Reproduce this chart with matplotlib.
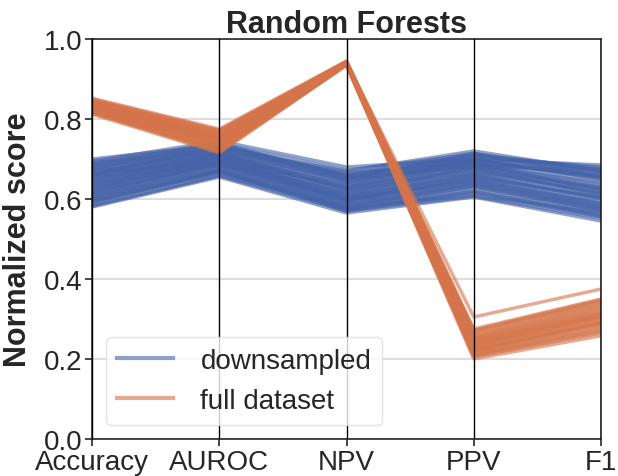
import matplotlib
matplotlib.use("Agg")
import matplotlib.pyplot as plt
import numpy as np

# metrics on the parallel axes
metrics = ["Accuracy", "AUROC", "NPV", "PPV", "F1"]

# downsampled runs: Accuracy, AUROC, NPV, PPV, F1
downsampled = [
    [0.700, 0.735, 0.660, 0.715, 0.655],
    [0.695, 0.745, 0.680, 0.700, 0.685],
    [0.692, 0.738, 0.672, 0.712, 0.676],
    [0.690, 0.725, 0.670, 0.720, 0.670],
    [0.687, 0.732, 0.662, 0.708, 0.668],
    [0.685, 0.740, 0.655, 0.705, 0.680],
    [0.682, 0.728, 0.658, 0.698, 0.662],
    [0.680, 0.720, 0.665, 0.690, 0.660],
    [0.677, 0.735, 0.652, 0.712, 0.672],
    [0.675, 0.730, 0.650, 0.710, 0.665],
    [0.672, 0.722, 0.646, 0.702, 0.655],
    [0.670, 0.715, 0.640, 0.700, 0.650],
    [0.667, 0.718, 0.648, 0.692, 0.645],
    [0.665, 0.725, 0.645, 0.685, 0.640],
    [0.662, 0.712, 0.638, 0.697, 0.652],
    [0.660, 0.705, 0.635, 0.695, 0.655],
    [0.660, 0.730, 0.655, 0.680, 0.675],
    [0.657, 0.715, 0.630, 0.688, 0.635],
    [0.655, 0.710, 0.625, 0.680, 0.630],
    [0.652, 0.704, 0.628, 0.684, 0.625],
    [0.650, 0.700, 0.630, 0.690, 0.620],
    [0.647, 0.708, 0.624, 0.676, 0.628],
    [0.645, 0.715, 0.620, 0.670, 0.625],
    [0.642, 0.700, 0.618, 0.678, 0.612],
    [0.640, 0.695, 0.615, 0.675, 0.610],
    [0.637, 0.700, 0.612, 0.668, 0.618],
    [0.635, 0.705, 0.610, 0.665, 0.615],
    [0.632, 0.694, 0.607, 0.662, 0.604],
    [0.630, 0.690, 0.605, 0.660, 0.600],
    [0.627, 0.696, 0.603, 0.657, 0.602],
    [0.625, 0.700, 0.600, 0.655, 0.605],
    [0.622, 0.688, 0.597, 0.652, 0.594],
    [0.620, 0.685, 0.595, 0.650, 0.590],
    [0.617, 0.688, 0.598, 0.647, 0.588],
    [0.615, 0.690, 0.600, 0.645, 0.585],
    [0.612, 0.684, 0.593, 0.642, 0.582],
    [0.610, 0.680, 0.590, 0.640, 0.580],
    [0.607, 0.678, 0.587, 0.637, 0.577],
    [0.605, 0.675, 0.585, 0.635, 0.575],
    [0.602, 0.672, 0.582, 0.632, 0.572],
    [0.600, 0.670, 0.580, 0.630, 0.570],
    [0.597, 0.668, 0.578, 0.625, 0.566],
    [0.595, 0.665, 0.575, 0.620, 0.560],
    [0.592, 0.668, 0.572, 0.618, 0.558],
    [0.590, 0.670, 0.570, 0.615, 0.555],
    [0.585, 0.660, 0.578, 0.610, 0.565],
    [0.582, 0.658, 0.570, 0.607, 0.552],
    [0.580, 0.655, 0.565, 0.605, 0.545],
]

# full dataset runs: Accuracy, AUROC, NPV, PPV, F1
full_dataset = [
    [0.852, 0.775, 0.945, 0.275, 0.350],
    [0.850, 0.772, 0.944, 0.272, 0.348],
    [0.848, 0.770, 0.944, 0.270, 0.345],
    [0.846, 0.768, 0.943, 0.266, 0.342],
    [0.845, 0.765, 0.943, 0.262, 0.338],
    [0.843, 0.762, 0.942, 0.258, 0.334],
    [0.842, 0.760, 0.942, 0.255, 0.330],
    [0.841, 0.757, 0.941, 0.252, 0.326],
    [0.840, 0.755, 0.941, 0.250, 0.322],
    [0.838, 0.753, 0.940, 0.247, 0.318],
    [0.837, 0.752, 0.940, 0.245, 0.315],
    [0.836, 0.750, 0.940, 0.242, 0.312],
    [0.835, 0.748, 0.940, 0.240, 0.310],
    [0.833, 0.746, 0.939, 0.237, 0.307],
    [0.832, 0.745, 0.939, 0.235, 0.305],
    [0.831, 0.742, 0.938, 0.232, 0.302],
    [0.830, 0.740, 0.938, 0.230, 0.300],
    [0.828, 0.738, 0.938, 0.226, 0.295],
    [0.826, 0.736, 0.937, 0.224, 0.292],
    [0.825, 0.735, 0.937, 0.222, 0.290],
    [0.823, 0.732, 0.937, 0.220, 0.288],
    [0.822, 0.730, 0.937, 0.218, 0.285],
    [0.820, 0.727, 0.936, 0.214, 0.280],
    [0.819, 0.725, 0.936, 0.212, 0.276],
    [0.818, 0.722, 0.936, 0.210, 0.272],
    [0.816, 0.720, 0.935, 0.207, 0.268],
    [0.815, 0.718, 0.935, 0.205, 0.265],
    [0.812, 0.715, 0.935, 0.200, 0.258],
    [0.838, 0.762, 0.942, 0.305, 0.375],
]

blue = "#4563A8"
orange = "#D5744A"

plt.rcParams["font.family"] = ["Liberation Sans", "DejaVu Sans"]
plt.rcParams["text.color"] = "#262626"
plt.rcParams["axes.labelcolor"] = "#262626"
plt.rcParams["xtick.color"] = "#262626"
plt.rcParams["ytick.color"] = "#262626"

fig = plt.figure(figsize=(6.18, 4.77), dpi=100)
ax = fig.add_axes([0.149, 0.0776, 0.8235, 0.8385])

xs = np.arange(len(metrics))
for i, row in enumerate(downsampled):
    ax.plot(xs, row, color=blue, alpha=0.6, lw=2.5,
            label="downsampled" if i == 0 else None)
for i, row in enumerate(full_dataset):
    ax.plot(xs, row, color=orange, alpha=0.6, lw=2.5,
            label="full dataset" if i == 0 else None)

for x in xs:
    ax.axvline(x, color="black", lw=1, zorder=3)

ax.set_xlim(0, len(metrics) - 1)
ax.set_ylim(0, 1)
ax.set_xticks(xs)
ax.set_xticklabels(metrics, fontsize=20)
ax.set_yticks(np.arange(0, 1.01, 0.2))
ax.set_yticklabels(["%.1f" % v for v in np.arange(0, 1.01, 0.2)], fontsize=20)
ax.tick_params(length=5, width=1.2, pad=2)
ax.yaxis.grid(True, color="#dddddd", lw=1.5, zorder=0)
ax.set_axisbelow(True)
for s in ax.spines.values():
    s.set_color("#262626")
    s.set_linewidth(1.2)

ax.set_ylabel("Normalized score", fontsize=22, fontweight="bold", labelpad=8)
ax.set_title("Random Forests", fontsize=22, fontweight="bold", pad=4)

leg = ax.legend(loc="lower left", fontsize=20, handletextpad=1.0,
                frameon=True, fancybox=True)
leg.get_frame().set_edgecolor("#dddddd")
for h in leg.get_lines():
    h.set_linewidth(3)

fig.savefig("out.png", dpi=100)
